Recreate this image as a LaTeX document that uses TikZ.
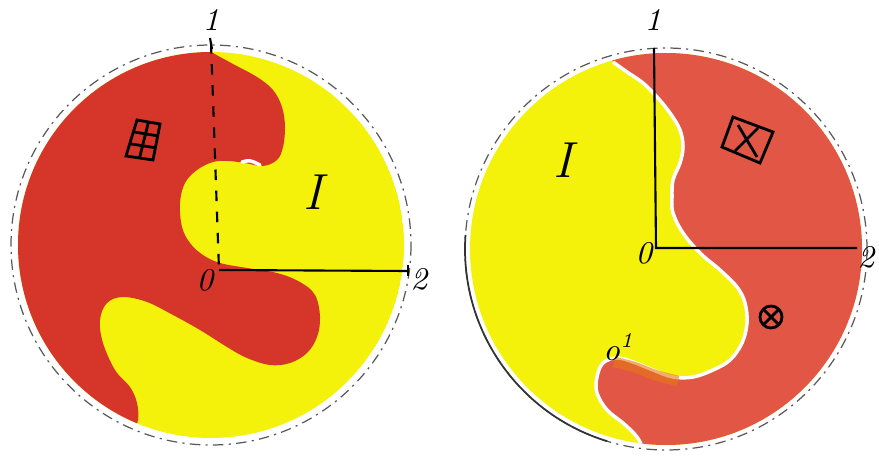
\documentclass[tikz,border=0pt]{standalone}
\usepackage{tikz}
\usetikzlibrary{calc}
\definecolor{leftred}{RGB}{214,54,42}
\definecolor{rightred}{RGB}{226,86,70}
\definecolor{paintyellow}{RGB}{244,241,10}
\definecolor{paintorange}{RGB}{230,120,20}

\begin{document}
\begin{tikzpicture}[x=0.01cm,y=-0.01cm,
    rim/.style={black!65,line width=0.35pt,dash pattern=on 3pt off 1.5pt on 0.6pt off 1.5pt},
    axis/.style={black,line width=0.6pt},
    lbl/.style={font=\small\itshape,inner sep=1pt},
    roman/.style={font=\Large\itshape,inner sep=0pt},
    sym/.style={black,line width=0.8pt}]
    \useasboundingbox (0,0) rectangle (879,458);

    % left disc
    \coordinate (L) at (211,245);
    \begin{scope}
      \clip (L) circle (193);
      \fill[paintyellow] (L) circle (193);
      \fill[leftred] (205,20) -- plot[smooth,tension=0.6] coordinates {(211,52) (233,64) (257,77) (273,90) (282,107) (285,127) (283,147) (277,160) (263,166) (245,163) (228,161) (213,162) (197,170) (185,183) (180,203) (182,227) (190,243) (203,255) (220,263) (247,268) (277,273) (300,282) (315,295) (320,317) (317,337) (307,353) (290,363) (270,365) (247,358) (227,347) (200,330) (173,315) (147,302) (123,297) (107,303) (100,320) (103,343) (115,370) (130,387) (137,403) (138,420) (133,433) (125,455)}
        -- (110,480) -- (-5,480) -- (-5,20) -- cycle;
      \draw[white,line width=1pt,line cap=round] (242,162) .. controls (250,160) .. (260,165);
    \end{scope}
    \draw[rim] (L) circle (200);

    \coordinate (LO) at (219,270);
    \coordinate (L1) at (211,43);
    \coordinate (L2) at (408,271);
    \draw[axis,dashed] (L1) -- (LO);
    \draw[axis] (LO) -- (L2);
    \draw[axis] ($(L1)+(-1,-5)$) -- ($(L1)+(1,6)$);
    \draw[axis] ($(L2)+(0,-6)$) -- ($(L2)+(0,5)$);
    \node[lbl] (l1) at (211,20) {1};
    \node[lbl] (l2) at (419,279) {2};
    \node[lbl] (l0) at (205,280) {0};
    \node[roman] (lI) at (313,192) {I};

    % grid sign
    \coordinate (g1) at (137,120);
    \coordinate (g2) at (160,124);
    \coordinate (g3) at (153,160);
    \coordinate (g4) at (126,156);
    \draw[sym] (g1) -- (g2) -- (g3) -- (g4) -- cycle;
    \draw[sym] ($(g1)!0.5!(g2)$) -- ($(g4)!0.5!(g3)$);
    \draw[sym] ($(g1)!0.33!(g4)$) -- ($(g2)!0.33!(g3)$);
    \draw[sym] ($(g1)!0.66!(g4)$) -- ($(g2)!0.66!(g3)$);

    % right disc
    \coordinate (R) at (666,249);
    \begin{scope}
      \clip (R) circle (196);
      \fill[paintyellow] (R) circle (196);
      \fill[white] (470,80) -- (520,95) .. controls (560,70) .. (610,60) -- (610,40) -- (470,40) -- cycle;
      \fill[rightred] (600,30) -- plot[smooth,tension=0.6] coordinates {(613,62) (627,72) (643,83) (657,97) (670,113) (680,130) (683,147) (680,163) (673,180) (672,197) (673,213) (683,233) (700,253) (720,270) (737,287) (745,303) (747,323) (742,343) (730,360) (713,370) (693,377) (673,377) (653,370) (633,362) (617,358) (603,363) (597,377) (597,393) (607,410) (623,423) (637,437) (643,450) (648,470)}
        -- (900,470) -- (900,30) -- cycle;
      \draw[white,line width=1pt] plot[smooth,tension=0.6] coordinates {(613,62) (627,72) (643,83) (657,97) (670,113) (680,130) (683,147) (680,163) (673,180) (672,197) (673,213) (683,233) (700,253) (720,270) (737,287) (745,303) (747,323) (742,343) (730,360) (713,370) (693,377) (673,377) (653,370) (633,362) (617,358) (603,363) (597,377) (597,393) (607,410) (623,423) (637,437) (643,450) (648,470)};
      \draw[paintorange,line width=3pt,opacity=0.6] plot[smooth] coordinates {(614,362) (634,367) (655,375) (678,381)};
    \end{scope}
    \draw[rim] (R) circle (201);
    \draw[black!80,line width=0.5pt] (R) ++(107:201) arc[start angle=107,end angle=184,radius=201];

    \coordinate (RO) at (656,248);
    \coordinate (R1) at (654,48);
    \coordinate (R2) at (857,248);
    \draw[axis] (R1) -- (RO) -- (R2);
    \node[lbl] (r1) at (653,20) {1};
    \node[lbl] (r2) at (866,257) {2};
    \node[lbl] (r0) at (644,253) {0};
    \node[roman] (rI) at (563,160) {I};
    \node[lbl] (rO1) at (619,347) {o\textsuperscript{1}};

    % crossed box
    \coordinate (b1) at (733,117);
    \coordinate (b2) at (773,132);
    \coordinate (b3) at (760,163);
    \coordinate (b4) at (722,147);
    \draw[sym] (b1) -- (b2) -- (b3) -- (b4) -- cycle;
    \draw[sym] (738,125) -- (757,157);
    \draw[sym] (758,128) -- (735,151);

    % crossed circle
    \coordinate (cx) at (771,317);
    \draw[sym] (cx) circle (11);
    \draw[sym] ($(cx)+(-7,-7)$) -- ($(cx)+(7,7)$);
    \draw[sym] ($(cx)+(7,-7)$) -- ($(cx)+(-7,7)$);
\end{tikzpicture}
\end{document}
